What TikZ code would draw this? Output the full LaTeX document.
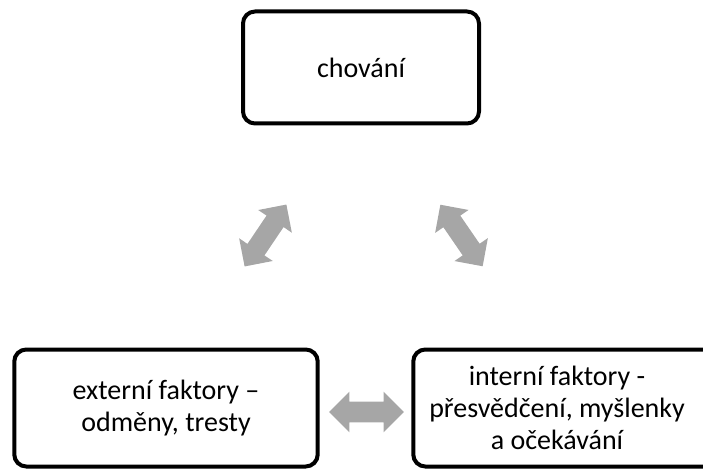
\documentclass[tikz,border=0pt]{standalone}
\usepackage{fontspec}
\setmainfont{Carlito}
\usetikzlibrary{shapes.arrows,positioning}
\definecolor{arrowgray}{HTML}{A6A6A6}

\begin{document}
\begin{tikzpicture}[x=0.75pt, y=-0.75pt,
    box/.style={draw=black, line width=3pt, rounded corners=9pt, fill=white,
        align=center, font=\fontsize{21}{24}\selectfont},
    boxtext/.style={align=center, font=\fontsize{21}{24}\selectfont, inner sep=0pt},
    twoway/.style={double arrow, fill=arrowgray, draw=none, inner xsep=0pt, inner ysep=7.5pt,
        minimum width=30pt, minimum height=56pt, double arrow head extend=7.5pt}]
    \useasboundingbox (0,0) rectangle (703,470);

    % TOP: behaviour
    \node[box, minimum width=177pt, minimum height=84pt] (chovani) at (361,67.5) {chování};

    % BOTTOM LEFT: external factors
    \node[box, minimum width=227.6pt, minimum height=87.75pt] (externi) at (166,408)
        {externí faktory –\\odměny, tresty};

    % BOTTOM RIGHT: internal factors (cut off by the right edge)
    \node[box, minimum width=227.6pt, minimum height=87.75pt] (interni) at (565,408) {};
    \node[boxtext] (internitext) at ([xshift=-6pt]interni.center)
        {interní faktory -\\přesvědčení, myšlenky\\a očekávání};

    % Two-way arrows
    \node[twoway, rotate=56] (vlevo) at (265.5,235.5) {};
    \node[twoway, rotate=-55.5] (vpravo) at (461.5,235.5) {};
    \node[twoway] (dole) at (366.5,412) {};
\end{tikzpicture}
\end{document}
